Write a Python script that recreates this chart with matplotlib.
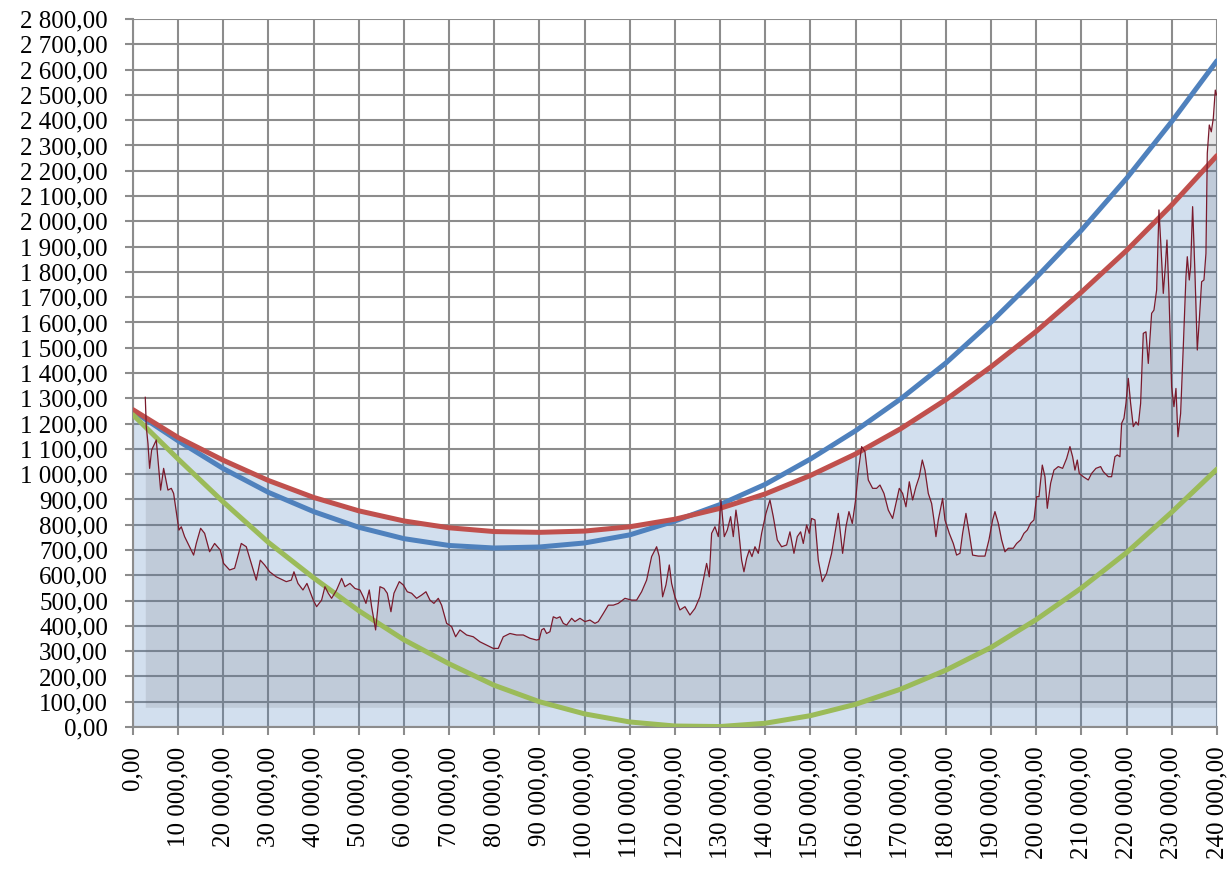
#!/usr/bin/env python3

"""
price vs. three fitted curves, redrawn as out.png
"""

import matplotlib
matplotlib.use("Agg")
import matplotlib.pyplot as plt
from matplotlib.ticker import FuncFormatter, MultipleLocator

# curve vertices every 10 000
CURVE_X = [i * 10000 for i in range(25)]
BLUE = [1250, 1132, 1022, 928, 852, 790, 745, 718, 708, 712, 728, 760, 815,
        880, 960, 1060, 1172, 1298, 1440, 1602, 1778, 1965, 2170, 2395, 2635]
RED = [1255, 1145, 1055, 975, 908, 855, 815, 788, 773, 770, 775, 792, 822,
       865, 922, 995, 1080, 1180, 1295, 1425, 1565, 1720, 1885, 2065, 2260]
GREEN = [1235, 1060, 890, 730, 590, 460, 345, 250, 165, 100, 52, 20, 4,
         2, 15, 45, 90, 150, 225, 315, 425, 550, 690, 850, 1020]

PRICE_X = [
    2731, 2952, 3321, 3690, 4133, 5166, 6125, 6790, 7749, 8487, 9004,
    10184, 10701, 11439, 12546, 13432, 14022, 14981, 15867, 16974, 18081,
    19336, 20074, 21402, 22509, 23985, 25092, 26199, 27306, 28192, 29151,
    30258, 31734, 33948, 35055, 35645, 36531, 37638, 38524,
    39926, 40664, 41771, 42509, 43247, 43985, 45092, 46199, 46937, 48044,
    49151, 50258, 50996, 51586, 52324, 52841, 53727, 54686, 55572, 56310,
    57121, 57786, 58966, 59852, 60738, 61697, 62804, 63911, 64870, 65756,
    66642, 67601, 68339, 69446, 70553, 71439, 72398, 73874, 75350, 76826,
    78302, 79778, 80885,
    81992, 83468, 84944, 86420, 87896, 89372, 89962, 90479, 90996, 91586,
    92324, 93062, 93800, 94538, 95276, 96014, 97121, 97859, 98966, 100073,
    101180, 102287, 103025, 104132, 105239, 106346, 107453, 108929, 110405,
    111512, 112619, 113726, 114833, 115940, 116530, 117268, 118006, 118744,
    119261, 119999, 121106, 122213,
    123320, 124427, 125534, 126272, 127010, 127600, 128117, 128855, 129593,
    130183, 130921, 131586, 132324, 132914, 133504, 134021, 134759, 135276,
    135866, 136456, 137047, 137711, 138449, 139187, 140146, 141032, 141770,
    142656, 143615, 144722, 145460, 146346, 147084, 147822, 148412, 149150,
    149740, 150257, 150995, 151733, 152619, 153578, 154685, 155423, 156161,
    157120, 157858, 158523, 159261, 159999, 160589, 161327, 162065, 162803,
    163762, 164648, 165386, 166272, 167231, 168190,
    168928, 169666, 170404, 171142, 171880, 172618, 173356, 174094, 174759,
    175349, 176087, 176825, 177342, 177784, 178301, 179260, 179777, 180736,
    181622, 182360, 183098, 183688, 184426, 185164, 185902, 187157, 188633,
    189519, 190330, 190847, 191585, 192323, 193061, 193799, 194906, 195644,
    196530, 197268, 198006, 198744, 199482, 200072, 200589, 201327, 201917,
    202434, 203172, 203910, 204869, 205829, 206714,
    207452, 208042, 208559, 209076, 209518, 210404, 211511, 212249, 213208,
    214242, 214832, 215939, 216677, 217415, 217932, 218522, 218891, 219408,
    219850, 220367, 220884, 221474, 222064, 222581, 223098, 223688, 224278,
    224795, 225533, 226050, 226640, 227157, 227599, 228116, 228559, 228928,
    229371, 229961, 230478, 230920, 231363, 231953, 232544, 233134, 233430,
    233872, 234168, 234610, 235127, 235644, 236086, 236603, 237120, 237562,
    237858, 238300, 238743, 239186, 239629, 239900,
]
PRICE_Y = [
    1304, 1188, 1122, 1023, 1095, 1135, 937, 1023, 937, 944, 924,
    779, 792, 753, 713, 680, 726, 786, 766, 693, 726,
    700, 647, 621, 628, 726, 713, 647, 581, 660, 641,
    614, 594, 575, 581, 614, 568, 542, 568,
    502, 476, 502, 555, 529, 509, 542, 588, 555, 568,
    548, 542, 515, 489, 542, 476, 384, 555, 548, 529,
    456, 529, 575, 562, 535, 529, 509, 522, 535, 502,
    489, 509, 482, 410, 397, 357, 384, 364, 357, 337,
    324, 311, 311,
    357, 370, 364, 364, 351, 344, 347, 384, 390, 370,
    377, 436, 430, 436, 410, 403, 430, 417, 430, 417,
    423, 410, 417, 449, 482, 482, 489, 509, 502,
    502, 535, 581, 674, 713, 674, 515, 562, 641,
    568, 515, 463, 476,
    443, 469, 515, 581, 647, 594, 766, 792, 753,
    898, 753, 779, 832, 753, 858, 792, 660, 614,
    667, 700, 674, 713, 687, 766, 845, 898, 832,
    740, 713, 720, 772, 687, 753, 772, 726, 799,
    766, 825, 819, 660, 575, 608, 687, 766, 845,
    687, 792, 852, 805, 898, 1010, 1109, 1089, 977,
    944, 944, 957, 924, 858, 825,
    884, 944, 924, 871, 970, 898, 950, 990, 1056,
    1016, 924, 884, 819, 753, 819, 904, 819, 766,
    726, 680, 687, 766, 845, 766, 680, 676, 676,
    740, 819, 852, 806, 740, 693, 707, 707, 726,
    740, 766, 779, 806, 819, 911, 911, 1036, 990,
    865, 964, 1016, 1030, 1023, 1062,
    1109, 1069, 1016, 1056, 1003, 990, 977, 1003, 1023,
    1030, 1010, 990, 990, 1069, 1076, 1069, 1201, 1221,
    1280, 1379, 1280, 1188, 1207, 1194, 1280, 1557, 1563,
    1438, 1636, 1649, 1728, 2045, 1900, 1715, 1820, 1926,
    1715, 1346, 1267, 1339, 1148, 1240, 1504, 1781, 1860,
    1768, 1820, 2058, 1794, 1491, 1609, 1761, 1768, 1873,
    2269, 2381, 2354, 2407, 2519, 2500,
]
PRICE_BASE = 78


def fmt_num(v, pos=None):
    return "{:,.2f}".format(v).replace(",", " ").replace(".", ",")


plt.rcParams["font.family"] = ["Liberation Serif", "DejaVu Serif"]

fig = plt.figure(figsize=(12.31, 8.73), dpi=100)
ax = fig.add_axes([0.108, 0.1672, 0.8806, 0.811])

ax.fill_between(CURVE_X, 0, RED, color="#4F81BD", alpha=0.25, lw=0, zorder=2)
ax.fill_between(PRICE_X, PRICE_BASE, PRICE_Y, color="#64646e", alpha=0.16,
                lw=0, zorder=2.1)

ax.plot(CURVE_X, BLUE, color="#4F81BD", lw=3.6, zorder=3, solid_capstyle="round")
ax.plot(CURVE_X, RED, color="#C0504D", lw=3.6, zorder=3.1, solid_capstyle="round")
ax.plot(CURVE_X, GREEN, color="#9BBB59", lw=3.6, zorder=3.2, solid_capstyle="round")
ax.plot(PRICE_X, PRICE_Y, color="#7a1a2c", lw=0.9, zorder=4)

ax.set_xlim(0, 240000)
ax.set_ylim(0, 2800)
ax.xaxis.set_major_locator(MultipleLocator(10000))
ax.yaxis.set_major_locator(MultipleLocator(100))
ax.xaxis.set_major_formatter(FuncFormatter(fmt_num))
ax.yaxis.set_major_formatter(FuncFormatter(fmt_num))

ax.set_axisbelow(True)
ax.grid(True, color="#8c8c8c", lw=1.5)
for s in ("top", "right"):
    ax.spines[s].set_visible(False)
for s in ("left", "bottom"):
    ax.spines[s].set_color("#8c8c8c")
    ax.spines[s].set_linewidth(1.5)

ax.tick_params(axis="both", colors="#8c8c8c", length=6, width=1.5,
               labelcolor="black", labelsize=18)
ax.tick_params(axis="y", pad=12)
ax.tick_params(axis="x", pad=8, labelrotation=90)

fig.savefig("out.png", dpi=100)
